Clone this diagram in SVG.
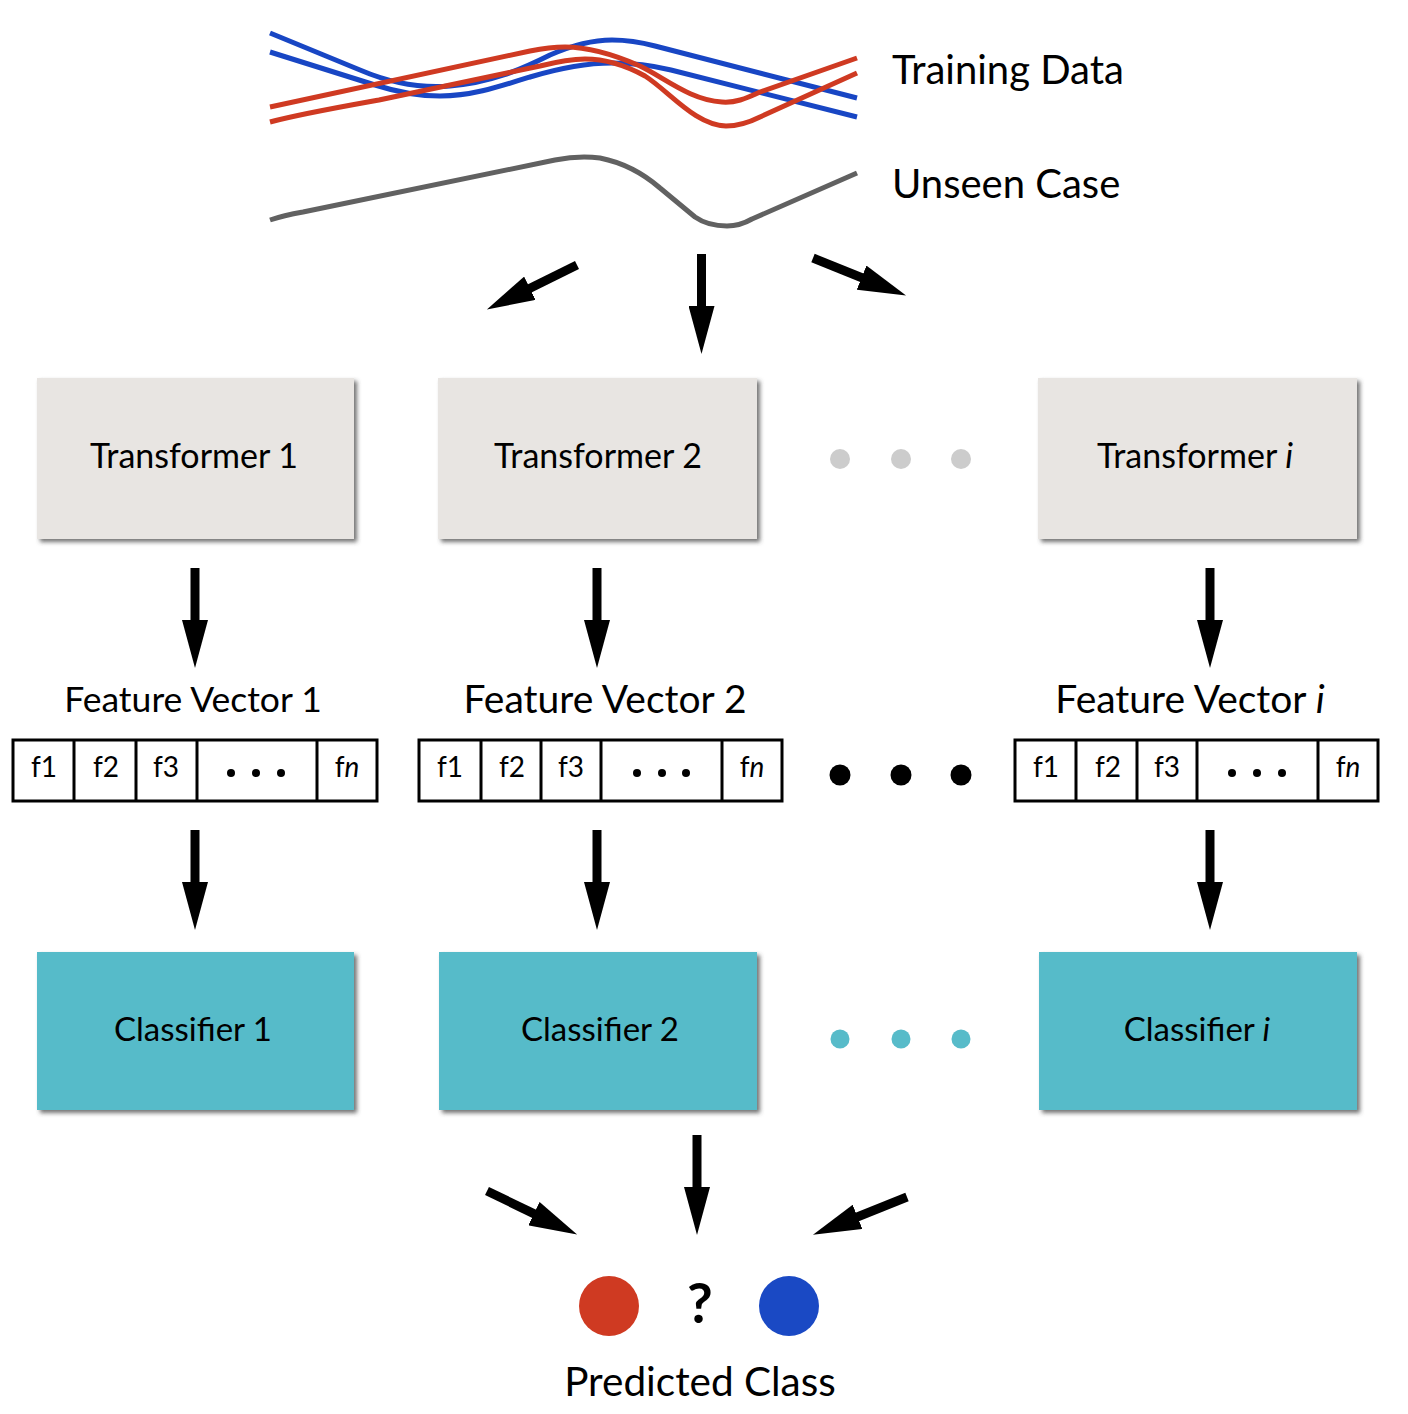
<svg xmlns="http://www.w3.org/2000/svg" width="1408" height="1414" viewBox="0 0 1408 1414">
<style>
text{font-family:Lato,"Open Sans","Liberation Sans",sans-serif;fill:#000}
.lbl{font-size:40px}
.box{font-size:34px;text-anchor:middle}
.cls{font-size:33px;text-anchor:middle}
.fv{font-size:39px;text-anchor:middle}
.fv1{font-size:35.5px;text-anchor:middle}
.cell{font-size:28px;text-anchor:middle}
.tr{fill:#e8e5e2}
.cl{fill:#57bbc9}
.vec{fill:#fff;stroke:#000;stroke-width:3}
.div{stroke:#000;stroke-width:3}
.arr{stroke:#000;stroke-width:9;fill:none;marker-end:url(#ah)}
.curve{fill:none;stroke-width:5;stroke-linecap:butt;stroke-linejoin:round}
</style>
<defs>
<marker id="ah" markerUnits="userSpaceOnUse" markerWidth="48" markerHeight="26" viewBox="0 0 48 26" refX="1" refY="13" orient="auto">
<path d="M0,0 L48,13 L0,26 Z" fill="#000"/>
</marker>
<filter id="sh" x="-5%" y="-5%" width="115%" height="120%">
<feDropShadow dx="3" dy="3" stdDeviation="2" flood-color="#444" flood-opacity="0.75"/>
</filter>
</defs>

<g id="data">
<path class="curve" stroke="#1846c4" d="M270,33 L360,70 C395,85 425,88 450,86 C490,83 520,70 550,55 C575,44 595,40 612,40 C625,40 640,42 655,46 L857,98"/>
<path class="curve" stroke="#1846c4" d="M270,52 L375,85 C400,93 420,96 440,96 C470,96 495,88 530,77 C560,68 590,63 612,63 C635,63 655,66 671,70 L857,117"/>
<path class="curve" stroke="#cf3a22" d="M270,107 L530,51 C545,48 555,47 565,47 C590,47 615,55 640,66 C665,78 690,100 722,102 C735,103 745,99 760,92 L857,58"/>
<path class="curve" stroke="#cf3a22" d="M270,122 C300,114 340,107 379,100 L540,66 C560,61 572,59 585,59 C605,59 625,65 645,76 C670,92 695,125 726,126 C738,126 748,123 760,117 L857,73"/>
<path class="curve" stroke="#616161" d="M270,220 C282,216 292,214 303,212 L555,160 C570,157 585,156 600,158 C625,163 645,175 660,188 L695,217 C705,224 715,226 727,226 C737,226 745,223 752,219 L857,173"/>
<text class="lbl" x="892" y="84">Training Data</text>
<text class="lbl" x="892" y="198">Unseen Case</text>
</g>

<g id="transformer1"><rect class="tr" x="37" y="378" width="317" height="161" filter="url(#sh)"/><text class="box" x="194" y="468">Transformer 1</text></g>
<g id="transformer2"><rect class="tr" x="438" y="378" width="319" height="161" filter="url(#sh)"/><text class="box" x="598" y="468">Transformer 2</text></g>
<g id="transformeri"><rect class="tr" x="1038" y="378" width="319" height="161" filter="url(#sh)"/><text class="box" x="1195" y="468">Transformer <tspan font-style="italic">i</tspan></text></g>
<g id="tdots" fill="#cccccc"><circle cx="840" cy="459" r="10"/><circle cx="901" cy="459" r="10"/><circle cx="961" cy="459" r="10"/></g>

<g id="fv1">
<text class="fv1" x="193" y="712">Feature Vector 1</text>
<rect class="vec" x="13" y="740" width="364" height="61"/>
<path class="div" d="M74,740V801M136,740V801M197,740V801M317,740V801"/>
<text class="cell" x="44" y="777">f1</text><text class="cell" x="106" y="777">f2</text><text class="cell" x="166" y="777">f3</text>
<circle cx="231" cy="773" r="4"/><circle cx="256" cy="773" r="4"/><circle cx="281" cy="773" r="4"/>
<text class="cell" x="347" y="777">f<tspan font-style="italic">n</tspan></text>
</g>
<g id="fv2">
<text class="fv" x="605" y="713">Feature Vector 2</text>
<rect class="vec" x="419" y="740" width="363" height="61"/>
<path class="div" d="M481,740V801M541,740V801M601,740V801M722,740V801"/>
<text class="cell" x="450" y="777">f1</text><text class="cell" x="512" y="777">f2</text><text class="cell" x="571" y="777">f3</text>
<circle cx="637" cy="773" r="4"/><circle cx="662" cy="773" r="4"/><circle cx="686" cy="773" r="4"/>
<text class="cell" x="752" y="777">f<tspan font-style="italic">n</tspan></text>
</g>
<g id="fvi">
<text class="fv" x="1190" y="713">Feature Vector <tspan font-style="italic">i</tspan></text>
<rect class="vec" x="1015" y="740" width="363" height="61"/>
<path class="div" d="M1076,740V801M1137,740V801M1197,740V801M1318,740V801"/>
<text class="cell" x="1046" y="777">f1</text><text class="cell" x="1108" y="777">f2</text><text class="cell" x="1167" y="777">f3</text>
<circle cx="1232" cy="773" r="4"/><circle cx="1257" cy="773" r="4"/><circle cx="1282" cy="773" r="4"/>
<text class="cell" x="1348" y="777">f<tspan font-style="italic">n</tspan></text>
</g>
<g id="fvdots" fill="#000"><circle cx="840" cy="775" r="10.5"/><circle cx="901" cy="775" r="10.5"/><circle cx="961" cy="775" r="10.5"/></g>

<g id="classifier1"><rect class="cl" x="37" y="952" width="317" height="158" filter="url(#sh)"/><text class="cls" x="193" y="1041">Classifier 1</text></g>
<g id="classifier2"><rect class="cl" x="439" y="952" width="318" height="158" filter="url(#sh)"/><text class="cls" x="600" y="1041">Classifier 2</text></g>
<g id="classifieri"><rect class="cl" x="1039" y="952" width="318" height="158" filter="url(#sh)"/><text class="cls" x="1197" y="1041">Classifier <tspan font-style="italic">i</tspan></text></g>
<g id="cdots" fill="#57bbc9"><circle cx="840" cy="1039" r="9.5"/><circle cx="901" cy="1039" r="9.5"/><circle cx="961" cy="1039" r="9.5"/></g>

<g id="prediction">
<circle cx="609" cy="1306" r="30" fill="#cf3a22"/>
<text x="700" y="1323" font-size="56" font-weight="bold" text-anchor="middle">?</text>
<circle cx="789" cy="1306" r="30" fill="#1a49c4"/>
<text x="700" y="1396" font-size="40.5" text-anchor="middle">Predicted Class</text>
</g>

<g id="connectors">
<line class="arr" x1="577" y1="265" x2="529" y2="288.7"/>
<line class="arr" x1="701.5" y1="254" x2="701.5" y2="307"/>
<line class="arr" x1="813" y1="258" x2="862.5" y2="278"/>
<line class="arr" x1="195" y1="568" x2="195" y2="621"/>
<line class="arr" x1="597" y1="568" x2="597" y2="621"/>
<line class="arr" x1="1210" y1="568" x2="1210" y2="621"/>
<line class="arr" x1="195" y1="830" x2="195" y2="883"/>
<line class="arr" x1="597" y1="830" x2="597" y2="883"/>
<line class="arr" x1="1210" y1="830" x2="1210" y2="883"/>
<line class="arr" x1="487" y1="1191" x2="534.8" y2="1214.1"/>
<line class="arr" x1="697" y1="1135" x2="697" y2="1188"/>
<line class="arr" x1="907" y1="1197" x2="856.6" y2="1217.2"/>
</g>
</svg>
